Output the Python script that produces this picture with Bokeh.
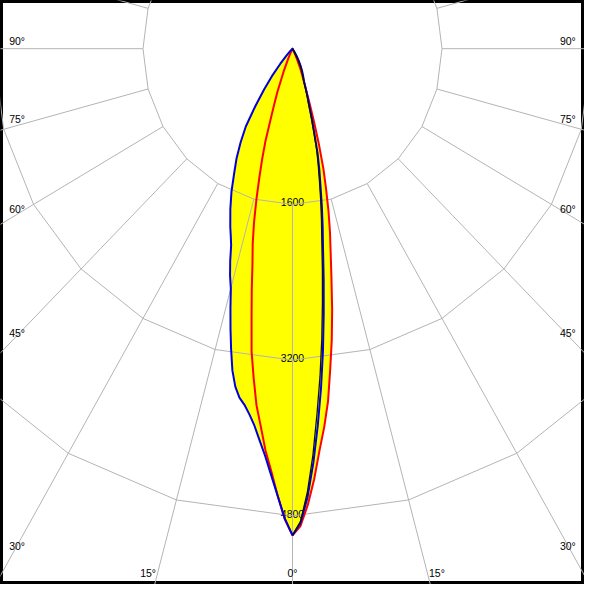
import math
from bokeh.plotting import figure
from bokeh.models import Range1d, ColumnDataSource
from bokeh.embed import file_html
from bokeh.resources import INLINE
from bokeh.core.properties import value

# ---------------- data (cd, gamma measured from nadir, degrees) ----------------
gamma = [0, 1, 2, 3, 4, 5, 6, 7, 8, 9, 10, 11, 12, 13, 14, 15, 16, 17, 18, 19, 20,
         22, 24, 26, 28, 30, 32, 34, 36, 38, 40, 42, 44, 46]

blue_left = [5000, 4825, 4592, 4385, 4195, 4040, 3895, 3785, 3695, 3630, 3525, 3370,
             3160, 2950, 2745, 2550, 2425, 2280, 2125, 2030, 1947,
             1776, 1605, 1424, 1275, 1110, 943, 710, 515, 358, 205, 100, 40, 0]
blue_right = [5000, 4875, 4610, 4262, 3880, 3500, 3120, 2740, 2397, 2090, 1860, 1646,
              1442, 1276, 1114, 907, 752, 608, 522, 443, 363,
              305, 255, 200, 145, 90, 40, 0, 0, 0, 0, 0, 0, 0]
red_left = [5000, 4830, 4590, 4345, 4140, 3895, 3685, 3410, 3145, 2800, 2510, 2245,
            2049, 1830, 1596, 1370, 1175, 983, 743, 590, 473,
            255, 110, 40, 0, 0, 0, 0, 0, 0, 0, 0, 0, 0]
red_right = [5000, 4905, 4690, 4430, 4140, 3900, 3640, 3315, 3020, 2713, 2402, 2142,
             1930, 1713, 1485, 1279, 1033, 795, 600, 440, 363,
             228, 120, 40, 0, 0, 0, 0, 0, 0, 0, 0, 0, 0]
black_right = [5000, 4860, 4560, 4180, 3760, 3380, 3000, 2630, 2300, 2005, 1785, 1580,
               1385, 1225, 1070, 870, 722, 584, 501, 425, 348,
               293, 245, 192, 139, 86, 38, 0, 0, 0, 0, 0, 0, 0]

ring_values = [1600, 3200, 4800]
ring_labels = ["1600", "3200", "4800"]
spoke_step = 15
side_label_angles = [90, 75, 60, 45, 30]
bottom_label_angles = [15, 0]

# ---------------- figure ----------------
W = H = 584
x0, x1 = -3125, 3125
y0, y1 = -5505, 495
kx = W / (x1 - x0)
ky = H / (y1 - y0)

p = figure(width=W, height=H, output_backend="svg", toolbar_location=None,
           x_range=Range1d(x0, x1), y_range=Range1d(y0, y1),
           x_axis_type=None, y_axis_type=None, min_border=0)
p.grid.visible = False
p.background_fill_color = "white"
p.border_fill_color = "white"
p.outline_line_color = "black"
p.outline_line_width = 5


def half(vals, side):
    xs = [side * v * math.sin(math.radians(g)) for g, v in zip(gamma, vals)]
    ys = [-v * math.cos(math.radians(g)) for g, v in zip(gamma, vals)]
    return xs, ys


def loop(left, right):
    xr, yr = half(right, 1)
    xl, yl = half(left, -1)
    return xr + xl[::-1], yr + yl[::-1]


bx, by = loop(blue_left, blue_right)
rx, ry = loop(red_left, red_right)
kx_r, ky_r = half(black_right, 1)

FONT = value("Liberation Sans")
FS = "10.5px"

# yellow fill (union of both curves)
p.patch(bx, by, fill_color="#ffff00", line_color=None)
p.patch(rx, ry, fill_color="#ffff00", line_color=None)

# ring labels
p.text(x=[0] * len(ring_values), y=[-r + 2.3 / ky for r in ring_values], text=ring_labels,
       text_align="center", text_baseline="alphabetic", text_font=FONT,
       text_font_size=FS, text_color="black")

# grid: polygonal rings and spokes
ang = list(range(0, 361, spoke_step))
ring_xs = [[r * math.sin(math.radians(a)) for a in ang] for r in ring_values]
ring_ys = [[-r * math.cos(math.radians(a)) for a in ang] for r in ring_values]
ring_xs.append([6400 * math.sin(math.radians(a)) for a in ang])
ring_ys.append([-6400 * math.cos(math.radians(a)) for a in ang])
p.multi_line(ring_xs, ring_ys, line_color="#b4b4b4", line_width=1)

sp_xs, sp_ys = [], []
for a in range(0, 360, spoke_step):
    s, c = math.sin(math.radians(a)), math.cos(math.radians(a))
    sp_xs.append([ring_values[0] * s, 12000 * s])
    sp_ys.append([-ring_values[0] * c, -12000 * c])
p.multi_line(sp_xs, sp_ys, line_color="#b4b4b4", line_width=1)

# curves
p.line(rx, ry, line_color="#ff0000", line_width=2, line_join="round")
p.line(bx, by, line_color="#0000dd", line_width=2, line_join="round")
p.line(kx_r, ky_r, line_color="#101010", line_width=1.3, line_join="round")

# angle labels on the sides
lx, ly, lt, la = [], [], [], []
for a in side_label_angles:
    yc = -3000 / math.tan(math.radians(a)) if a != 90 else 0.0
    for side in (-1, 1):
        lx.append(side * (3000 + 3 / kx))
        ly.append(yc + 8 / ky)
        lt.append(f"{a}°")
        la.append("left" if side < 0 else "right")
src = ColumnDataSource(dict(x=lx, y=ly, t=lt, a=la))
p.text(x="x", y="y", text="t", text_align="a", text_baseline="middle", source=src,
       text_font=FONT, text_font_size=FS, text_color="black")

# angle labels at the bottom
bx_, by_, bt_, ba_ = [], [], [], []
yb = -5390
for a in bottom_label_angles:
    xs = -yb * math.tan(math.radians(a))
    if a == 0:
        bx_.append(0); by_.append(yb); bt_.append("0°"); ba_.append("center")
    else:
        for side in (-1, 1):
            bx_.append(side * (xs + 1.5 / kx))
            by_.append(yb)
            bt_.append(f"{a}°")
            ba_.append("right" if side < 0 else "left")
src2 = ColumnDataSource(dict(x=bx_, y=by_, t=bt_, a=ba_))
p.text(x="x", y="y", text="t", text_align="a", text_baseline="middle", source=src2,
       text_font=FONT, text_font_size=FS, text_color="black")

open("out.html", "w").write(file_html(p, INLINE))
